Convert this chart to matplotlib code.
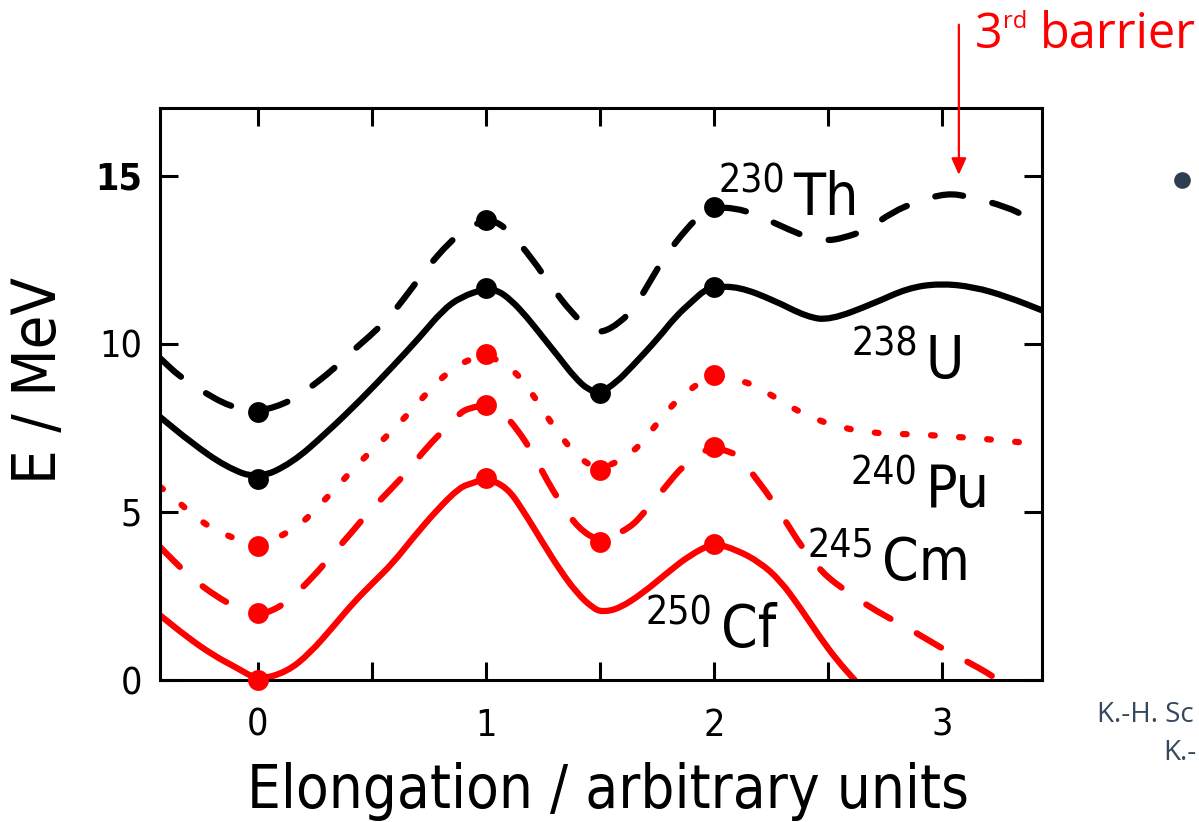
import matplotlib
matplotlib.use("Agg")
import numpy as np
import matplotlib.pyplot as plt
import matplotlib.font_manager as fm
from matplotlib.path import Path
from matplotlib.patches import PathPatch
from matplotlib.lines import Line2D
from matplotlib.ticker import MultipleLocator, FixedLocator, FuncFormatter

# condensed font if available (the original uses a narrow DIN-like face)
fonts = fm.fontManager.ttflist
names = {f.name for f in fonts}
stretch = "normal"
if any(f.name == "DejaVu Sans" and "Condensed" in f.fname for f in fonts):
    family = "DejaVu Sans"
    stretch = "condensed"
elif "Liberation Sans Narrow" in names:
    family = "Liberation Sans Narrow"
else:
    family = "Roboto"
plt.rcParams["font.family"] = [family, "DejaVu Sans"]
plt.rcParams["font.stretch"] = stretch

# ---- data ----
th_x = [-0.43, -0.342, -0.254, -0.123, 0.0, 0.127, 0.215, 0.329, 0.404, 0.522, 0.592, 0.68,
        0.741, 0.842, 0.917, 1.0, 1.061, 1.136, 1.228, 1.281, 1.377, 1.456, 1.509, 1.588,
        1.654, 1.732, 1.785, 1.882, 1.952, 2.0, 2.092, 2.189, 2.333, 2.421, 2.496, 2.566,
        2.671, 2.785, 2.89, 3.022, 3.123, 3.285, 3.373, 3.44]
th_y = [9.58, 9.02, 8.63, 8.13, 7.98, 8.24, 8.63, 9.23, 9.73, 10.42, 10.92, 11.7,
        12.26, 13.04, 13.45, 13.69, 13.6, 13.1, 12.3, 11.76, 10.92, 10.42, 10.33, 10.63,
        11.1, 12.0, 12.6, 13.45, 13.9, 14.05, 14.05, 13.84, 13.39, 13.15, 13.07, 13.15,
        13.39, 13.93, 14.23, 14.49, 14.38, 14.08, 13.78, 13.48]

u_x = [-0.43, -0.29, -0.14, 0.0, 0.15, 0.30, 0.45, 0.59, 0.71, 0.81, 0.89, 1.0, 1.05,
       1.11, 1.18, 1.25, 1.32, 1.39, 1.45, 1.5, 1.57, 1.64, 1.76, 1.83, 1.91, 1.96, 2.0,
       2.11, 2.26, 2.41, 2.51, 2.70, 2.85, 2.99, 3.14, 3.29, 3.44]
u_y = [7.83, 7.05, 6.34, 5.98, 6.46, 7.35, 8.33, 9.32, 10.2, 11.0, 11.4, 11.65, 11.6,
       11.31, 10.8, 10.2, 9.61, 9.0, 8.63, 8.54, 8.84, 9.32, 10.2, 10.8, 11.3, 11.6, 11.7,
       11.7, 11.31, 10.8, 10.71, 11.2, 11.66, 11.8, 11.7, 11.4, 11.0]

pu_x = [-0.43, -0.373, -0.276, -0.175, 0.0, 0.171, 0.263, 0.346, 0.434, 0.526, 0.614, 0.702,
        0.785, 0.886, 1.0, 1.114, 1.193, 1.263, 1.333, 1.417, 1.5, 1.636, 1.719, 1.798,
        1.886, 2.0, 2.123, 2.232, 2.333, 2.452, 2.566, 2.697, 2.825, 2.947, 3.07, 3.197,
        3.329, 3.44]
pu_y = [5.75, 5.45, 4.85, 4.4, 3.96, 4.52, 5.15, 5.74, 6.4, 7.0, 7.59, 8.24,
        8.87, 9.43, 9.7, 9.29, 8.63, 7.89, 7.2, 6.55, 6.25, 6.7, 7.35, 8.04,
        8.63, 9.08, 8.93, 8.57, 8.13, 7.74, 7.5, 7.35, 7.32, 7.29, 7.23, 7.17,
        7.08, 7.03]

cm_x = [-0.43, -0.373, -0.298, -0.18, -0.088, 0.0, 0.053, 0.14, 0.25, 0.316, 0.412, 0.482,
        0.579, 0.654, 0.741, 0.829, 0.886, 0.93, 1.0, 1.075, 1.14, 1.202, 1.272, 1.325,
        1.404, 1.5, 1.632, 1.697, 1.794, 1.86, 1.939, 2.0, 2.083, 2.114, 2.18, 2.246,
        2.32, 2.386, 2.465, 2.553, 2.671, 2.759, 2.89, 2.991, 3.114, 3.202, 3.246]
cm_y = [3.96, 3.57, 3.07, 2.47, 2.14, 1.99, 2.02, 2.38, 3.13, 3.66, 4.4, 4.97,
        5.65, 6.19, 6.93, 7.53, 7.95, 8.1, 8.18, 7.95, 7.44, 6.79, 5.89, 5.3,
        4.52, 4.11, 4.52, 5.0, 5.8, 6.34, 6.76, 6.93, 6.76, 6.64, 6.04, 5.45,
        4.67, 3.96, 3.27, 2.77, 2.23, 1.88, 1.4, 0.98, 0.54, 0.21, 0.0]

cf_x = [-0.43, -0.311, -0.197, -0.092, 0.0, 0.127, 0.228, 0.329, 0.417, 0.504, 0.592, 0.68,
        0.785, 0.886, 0.943, 1.0, 1.092, 1.162, 1.25, 1.325, 1.399, 1.469, 1.513, 1.588,
        1.689, 1.794, 1.895, 2.0, 2.101, 2.202, 2.289, 2.377, 2.465, 2.539, 2.618]
cf_y = [1.93, 1.28, 0.74, 0.36, 0.0, 0.24, 0.8, 1.58, 2.29, 2.89, 3.48, 4.23,
        5.06, 5.74, 5.86, 6.01, 5.74, 5.06, 4.08, 3.27, 2.59, 2.14, 2.02, 2.14,
        2.59, 3.18, 3.72, 4.08, 3.87, 3.5, 2.98, 2.17, 1.28, 0.6, 0.0]

# dots (saddle points / minima)
th_dx = [0, 1, 2];        th_dy = [7.98, 13.69, 14.08]
u_dx = [0, 1, 1.5, 2];    u_dy = [5.98, 11.65, 8.54, 11.7]
pu_dx = [0, 1, 1.5, 2];   pu_dy = [3.99, 9.7, 6.25, 9.08]
cm_dx = [0, 1, 1.5, 2];   cm_dy = [2.0, 8.18, 4.11, 6.93]
cf_dx = [0, 1, 2];        cf_dy = [0.0, 6.0, 4.05]

mass_numbers = ["230", "238", "240", "245", "250"]
elements = ["Th", "U", "Pu", "Cm", "Cf"]
label_x = [2.35, 2.93, 2.93, 2.74, 2.03]
label_y = [13.84, 8.99, 5.15, 2.98, 0.98]


def smooth_path(x, y):
    # quadratic bezier through the midpoints, read points act as control points
    pts = np.column_stack([x, y])
    mids = (pts[:-1] + pts[1:]) / 2
    verts = [pts[0], mids[0]]
    codes = [Path.MOVETO, Path.LINETO]
    for i in range(1, len(pts) - 1):
        verts += [pts[i], mids[i]]
        codes += [Path.CURVE3, Path.CURVE3]
    verts.append(pts[-1])
    codes.append(Path.LINETO)
    return Path(verts, codes)


fig = plt.figure(figsize=(11.99, 8.22), dpi=100)
ax = fig.add_axes([0.1334, 0.1727, 0.7357, 0.6959])

LW = 4.5
dash = (0, (4.5, 4.8))
dot = (0, (0.6, 3.9))

curves = [(th_x, th_y, "black", dash), (u_x, u_y, "black", "-"),
          (pu_x, pu_y, "red", dot), (cm_x, cm_y, "red", dash), (cf_x, cf_y, "red", "-")]
for x, y, c, ls in curves:
    ax.add_patch(PathPatch(smooth_path(x, y), fill=False, edgecolor=c, lw=LW, ls=ls,
                           capstyle="round", joinstyle="round"))

for dx, dy, c in [(th_dx, th_dy, "black"), (u_dx, u_dy, "black"), (pu_dx, pu_dy, "red"),
                  (cm_dx, cm_dy, "red"), (cf_dx, cf_dy, "red")]:
    ax.plot(dx, dy, "o", color=c, ms=15, mec="none", clip_on=False, zorder=5)

for num, el, x, y in zip(mass_numbers, elements, label_x, label_y):
    ax.text(x, y, el, fontsize=42, ha="left", va="baseline")
    ax.text(x - 0.035, y + 0.66, num, fontsize=28, ha="right", va="baseline")

ax.set_xlim(-0.43, 3.44)
ax.set_ylim(0, 17.02)
ax.xaxis.set_major_locator(FixedLocator([0, 1, 2, 3]))
ax.xaxis.set_minor_locator(FixedLocator([0.5, 1.5, 2.5]))
ax.yaxis.set_major_locator(MultipleLocator(5))
ax.yaxis.set_minor_locator(FixedLocator([]))
ax.xaxis.set_major_formatter(FuncFormatter(lambda v, p: "%d" % v))
ax.tick_params(which="both", direction="in", top=True, right=True,
               length=13, width=2.2, labelsize=27)
ax.tick_params(axis="x", pad=20)
ax.tick_params(axis="y", pad=13)
for s in ax.spines.values():
    s.set_linewidth(2.2)
fig.canvas.draw()
for t in ax.get_yticklabels():
    if t.get_text() == "15":
        t.set_fontweight("bold")

fig.text(608 / 1199, 1 - 808 / 822, "Elongation / arbitrary units", fontsize=43,
         ha="center", va="baseline")
fig.text(40 / 1199, 1 - 380 / 822, "E / MeV", fontsize=44, rotation=90,
         ha="center", va="center")

# red annotation
ax.annotate("", xy=(3.075, 15.03), xytext=(3.075, 19.5), annotation_clip=False,
            arrowprops=dict(arrowstyle="-|>,head_width=0.45,head_length=1.0",
                            color="red", lw=1.6, shrinkA=0, shrinkB=0))
red = dict(color="red", family="Open Sans", fontstretch="normal", ha="left", va="baseline")
fig.text(975 / 1199, 1 - 48 / 822, "3", fontsize=35, **red)
fig.text(1003 / 1199, 1 - 28 / 822, "rd", fontsize=17, **red)
fig.text(1040 / 1199, 1 - 48 / 822, "barrier", fontsize=35, **red)

# slide remnants on the right
fig.add_artist(Line2D([1182 / 1199], [1 - 180 / 822], marker="o", ms=12, color="#2c3e50",
                      mec="none", transform=fig.transFigure))
grey = dict(color="#34495e", family="Open Sans", fontstretch="normal", ha="left",
            va="baseline", fontsize=20)
fig.text(1097 / 1199, 1 - 722 / 822, "K.-H. Sc", **grey)
fig.text(1163 / 1199, 1 - 760 / 822, "K.-", **grey)

fig.savefig("out.png", dpi=100)
